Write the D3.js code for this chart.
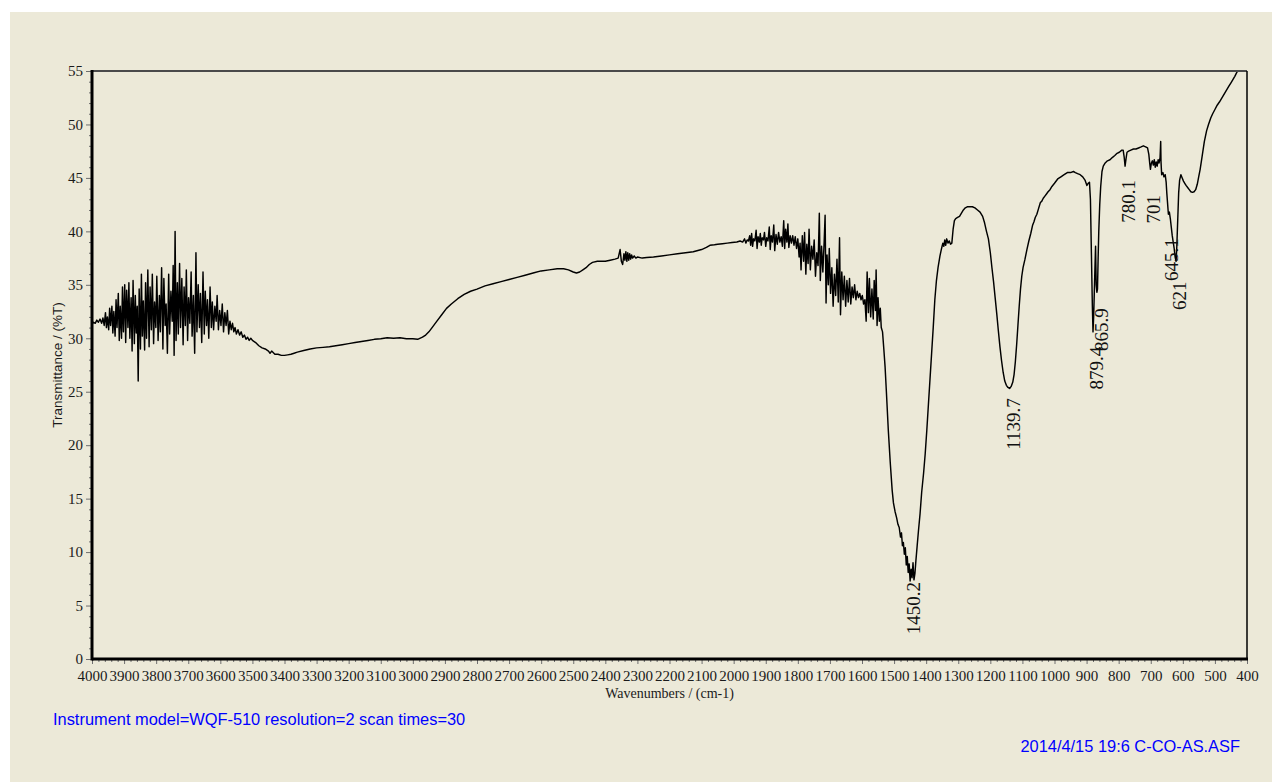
<!DOCTYPE html>
<html>
<head>
<meta charset="utf-8">
<script src="https://cdn.jsdelivr.net/npm/d3@7/dist/d3.min.js"></script>
<style>
  html, body { margin: 0; padding: 0; background: #ffffff; }
  svg { display: block; }
</style>
</head>
<body>
<svg id="chart" width="1272" height="782"></svg>
<script>
// ---------------- DATA ----------------
const xTicks = [4000,3900,3800,3700,3600,3500,3400,3300,3200,3100,3000,2900,2800,2700,2600,2500,2400,2300,2200,2100,2000,1900,1800,1700,1600,1500,1400,1300,1200,1100,1000,900,800,700,600,500,400];
const yTicks = [0,5,10,15,20,25,30,35,40,45,50,55];
const xTitle = "Wavenumbers / (cm-1)";
const yTitle = "Transmittance / (%T)";
const infoLeft = "Instrument model=WQF-510 resolution=2 scan times=30";
const infoRight = "2014/4/15 19:6 C-CO-AS.ASF";

const peakLabels = ["1450.2","1139.7","879.4","865.9","780.1","701","645.1","621"];
const peakWn     = [1450.2, 1139.7, 879.4, 865.9, 780.1, 701, 645.1, 621];
const peakLabelT = [7.2, 24.4, 29.2, 32.8, 44.8, 43.4, 39.35, 35.3];

// [wavenumber (cm-1), transmittance (%T)]
const spectrum = [
[4000,31.3],[3995,31.5],[3990,31.4],[3985,31.7],[3980,31.5],[3975,31.8],[3970,31.4],[3966,31.9],[3962,31.2],[3958,32.4],
[3955,31.0],[3952,32.0],[3948,30.8],[3945,32.8],[3942,31.2],[3938,33.0],[3935,30.5],[3932,32.5],[3928,30.2],[3925,33.6],
[3922,31.0],[3918,34.2],[3915,29.8],[3912,33.0],[3908,30.0],[3905,34.8],[3902,30.6],[3898,35.0],[3895,29.6],[3892,34.5],
[3888,31.0],[3885,35.2],[3882,30.0],[3878,33.8],[3875,28.8],[3872,35.4],[3868,29.5],[3865,34.0],[3862,30.5],[3859,33.0],
[3856,26.0],[3853,34.6],[3849,29.0],[3846,36.0],[3843,30.2],[3840,33.5],[3836,28.9],[3833,35.2],[3830,30.0],[3826,36.4],
[3822,29.2],[3819,34.8],[3815,30.8],[3812,36.0],[3808,29.5],[3805,33.4],[3801,31.0],[3798,35.8],[3794,29.8],[3790,34.0],
[3787,30.6],[3783,36.6],[3779,29.0],[3776,35.6],[3772,31.2],[3769,33.2],[3765,28.6],[3761,36.0],[3758,30.4],[3754,34.4],
[3750,31.6],[3747,36.8],[3744,28.4],[3741,40.0],[3738,29.8],[3734,35.2],[3731,30.4],[3727,37.0],[3724,31.0],[3720,35.6],
[3716,29.4],[3713,34.8],[3709,31.2],[3706,36.4],[3702,29.8],[3699,33.8],[3695,31.4],[3691,36.2],[3688,30.2],[3684,34.0],
[3680,28.6],[3676,38.0],[3673,30.6],[3669,35.0],[3665,31.0],[3662,34.2],[3658,29.6],[3654,36.2],[3650,30.4],[3647,34.4],
[3643,31.2],[3640,33.6],[3636,30.0],[3632,34.8],[3628,31.0],[3625,33.4],[3621,30.8],[3617,33.0],[3613,31.6],[3610,34.0],
[3606,30.8],[3602,32.6],[3598,31.2],[3594,33.2],[3590,30.6],[3586,32.4],[3582,31.2],[3578,32.6],[3574,30.4],[3570,31.6],
[3566,30.8],[3562,31.4],[3558,30.6],[3554,31.0],[3550,30.4],[3545,30.8],[3540,30.3],[3535,30.6],[3530,30.1],[3525,30.3],
[3520,29.9],[3515,30.1],[3510,29.8],[3505,30.0],[3500,29.8],[3490,29.6],[3480,29.3],[3470,29.1],[3460,29.0],[3450,28.8],
[3445,28.6],[3440,28.8],[3430,28.5],[3420,28.5],[3410,28.4],[3400,28.4],[3390,28.45],[3380,28.5],[3370,28.6],[3360,28.7],
[3340,28.85],[3320,29.0],[3300,29.1],[3280,29.15],[3260,29.2],[3240,29.3],[3220,29.4],[3200,29.5],[3180,29.6],[3160,29.7],
[3140,29.8],[3120,29.9],[3100,29.95],[3080,30.05],[3060,30.0],[3040,30.05],[3020,29.95],[3000,29.95],[2985,29.9],[2970,30.1],
[2960,30.3],[2950,30.6],[2940,31.0],[2925,31.6],[2910,32.2],[2895,32.8],[2880,33.2],[2860,33.7],[2840,34.1],[2820,34.4],
[2800,34.6],[2775,34.9],[2750,35.1],[2725,35.3],[2700,35.5],[2675,35.7],[2650,35.9],[2625,36.1],[2600,36.3],[2575,36.4],
[2550,36.5],[2530,36.5],[2515,36.4],[2500,36.2],[2490,36.1],[2480,36.2],[2470,36.4],[2460,36.6],[2450,36.9],[2440,37.1],
[2425,37.2],[2400,37.2],[2385,37.3],[2370,37.4],[2360,37.5],[2357,37.9],[2354,38.3],[2350,37.2],[2346,36.9],[2342,37.9],
[2339,37.3],[2336,38.1],[2333,37.2],[2330,38.0],[2327,37.3],[2324,37.9],[2321,37.4],[2318,37.8],[2315,37.5],[2310,37.7],
[2305,37.5],[2300,37.6],[2285,37.5],[2271,37.55],[2250,37.6],[2225,37.7],[2200,37.8],[2175,37.9],[2150,38.0],[2126,38.1],
[2100,38.3],[2085,38.5],[2074,38.7],[2060,38.75],[2050,38.8],[2035,38.85],[2020,38.9],[2005,38.95],[1990,39.0],[1980,39.1],
[1972,39.0],[1966,39.3],[1962,38.9],[1958,39.2],[1954,39.1],[1950,39.6],[1947,38.7],[1944,39.8],[1941,38.6],[1938,39.3],
[1934,39.1],[1930,40.1],[1927,38.4],[1924,39.5],[1920,39.0],[1917,39.8],[1914,38.7],[1911,39.4],[1907,39.2],[1904,39.9],
[1900,38.6],[1897,39.4],[1893,39.1],[1889,40.4],[1886,38.3],[1883,39.6],[1879,39.0],[1875,40.6],[1872,38.2],[1868,39.7],
[1864,38.8],[1860,39.9],[1856,39.0],[1852,39.5],[1848,38.6],[1844,41.0],[1841,38.4],[1838,40.2],[1834,39.0],[1831,40.7],
[1828,38.5],[1824,39.6],[1820,38.9],[1816,39.6],[1812,38.7],[1808,39.5],[1804,38.4],[1800,39.3],[1796,37.6],[1793,38.9],
[1790,36.4],[1786,39.6],[1782,37.2],[1779,39.9],[1775,36.0],[1772,38.8],[1768,37.0],[1765,40.2],[1761,36.4],[1757,38.6],
[1753,37.4],[1749,39.2],[1745,35.8],[1741,38.0],[1737,36.8],[1733,41.7],[1730,35.4],[1726,38.6],[1722,36.2],[1718,39.0],
[1715,41.5],[1712,33.3],[1709,37.8],[1705,35.0],[1702,38.4],[1698,34.2],[1694,36.6],[1690,33.0],[1686,36.0],[1682,34.0],
[1678,37.4],[1674,33.4],[1670,39.4],[1667,32.2],[1663,36.2],[1659,33.6],[1655,35.8],[1651,33.0],[1647,35.4],[1643,33.4],
[1639,35.6],[1635,33.2],[1631,34.8],[1627,33.8],[1623,35.0],[1619,33.6],[1615,34.4],[1611,33.8],[1607,34.2],[1603,33.6],
[1599,34.0],[1595,33.2],[1591,33.6],[1587,31.6],[1584,36.2],[1580,32.4],[1577,35.6],[1573,32.0],[1569,34.6],[1565,31.8],
[1562,35.4],[1558,32.6],[1556,36.4],[1553,31.2],[1550,33.8],[1546,31.6],[1543,32.8],[1540,31.0],[1536,30.6],[1532,29.0],
[1528,27.3],[1524,25.0],[1518,21.4],[1512,18.4],[1506,15.8],[1502,14.6],[1497,13.8],[1492,13.2],[1488,12.6],[1484,12.3],
[1480,11.4],[1477,11.8],[1474,10.6],[1471,10.9],[1468,9.8],[1465,10.4],[1462,8.8],[1459,9.6],[1456,8.1],[1453,8.9],
[1450,7.3],[1447,8.4],[1444,7.6],[1441,9.0],[1438,7.4],[1435,8.0],[1432,9.2],[1428,10.6],[1424,12.0],[1419,13.6],
[1414,15.6],[1408,17.4],[1403,19.2],[1398,21.4],[1393,23.8],[1388,26.2],[1383,28.6],[1378,31.0],[1373,33.6],[1368,35.4],
[1363,36.6],[1357,37.7],[1352,38.4],[1348,38.9],[1345,38.6],[1342,39.2],[1339,38.7],[1336,39.3],[1332,38.9],[1328,39.1],
[1324,38.8],[1320,38.9],[1316,40.2],[1312,41.0],[1308,41.2],[1302,41.3],[1296,41.4],[1290,41.7],[1284,42.0],[1278,42.2],
[1272,42.3],[1264,42.3],[1256,42.3],[1248,42.2],[1240,42.0],[1232,41.8],[1224,41.4],[1218,40.8],[1212,40.0],[1206,39.3],
[1200,38.0],[1195,36.6],[1190,35.3],[1185,33.8],[1180,32.3],[1175,30.7],[1170,29.2],[1165,27.9],[1160,26.8],[1155,26.0],
[1150,25.6],[1145,25.4],[1140,25.3],[1135,25.5],[1130,25.9],[1126,26.6],[1122,27.8],[1118,29.4],[1114,31.2],[1110,33.0],
[1106,34.6],[1102,35.8],[1098,36.6],[1092,37.4],[1086,38.3],[1080,39.1],[1074,39.8],[1068,40.6],[1064,40.9],[1060,41.3],
[1055,41.6],[1050,42.1],[1044,42.7],[1040,42.8],[1035,43.1],[1030,43.3],[1025,43.5],[1020,43.7],[1014,43.9],[1008,44.2],
[1000,44.5],[990,44.9],[980,45.1],[970,45.3],[960,45.5],[950,45.5],[941,45.6],[935,45.5],[928,45.4],[920,45.3],
[912,45.1],[905,44.8],[899,44.3],[895,44.5],[891,44.6],[888,43.0],[885,38.0],[882,33.0],[880,30.6],[878,32.0],
[876,34.2],[874,36.5],[872,38.6],[870,35.0],[868,34.3],[866,34.6],[864,37.5],[862,40.0],[859,42.5],[856,44.2],
[852,45.6],[848,46.1],[842,46.4],[835,46.6],[827,46.7],[820,46.9],[812,47.1],[805,47.3],[798,47.4],[790,47.6],
[786,47.6],[783,47.0],[780,46.1],[777,46.8],[774,47.4],[769,47.5],[762,47.6],[754,47.7],[746,47.7],[738,47.8],
[730,47.9],[723,48.0],[716,47.9],[710,47.8],[706,47.2],[703,46.3],[701,45.8],[698,46.4],[695,46.6],[692,46.2],
[689,46.7],[686,46.0],[683,46.5],[680,46.1],[677,46.7],[674,46.4],[671,46.9],[669,48.4],[668,46.5],[666,45.3],
[662,45.5],[659,45.1],[655,45.3],[652,44.6],[650,43.6],[648,42.8],[645,41.6],[642,41.8],[639,41.2],[636,40.4],
[633,39.6],[630,39.0],[627,38.4],[624,37.6],[621,37.2],[619,38.4],[616,41.0],[613,43.6],[610,44.8],[606,45.3],
[602,45.0],[598,44.7],[594,44.5],[590,44.3],[585,44.1],[580,43.9],[575,43.7],[570,43.65],[565,43.7],[560,43.9],
[555,44.4],[550,45.2],[546,45.8],[540,47.0],[533,48.4],[526,49.4],[520,50.0],[513,50.6],[507,51.0],[500,51.4],
[493,51.8],[486,52.1],[480,52.4],[474,52.7],[468,53.0],[462,53.3],[456,53.6],[450,53.9],[444,54.2],[438,54.5],
[433,54.8],[429,55.0]
];

// ---------------- DRAW ----------------
(function () {
const W = 1272, H = 782;
const svg = d3.select("#chart");
const serif = "'Liberation Serif','Times New Roman',serif";
const sans = "'Liberation Sans',Arial,sans-serif";

svg.append("rect").attr("x", 10).attr("y", 12).attr("width", W - 10).attr("height", H - 12)
  .attr("fill", "#ECE9D8");

const pL = 92, pR = 1247, pT = 71, pB = 659;
const x = d3.scaleLinear().domain([4000, 400]).range([pL, pR]);
const y = d3.scaleLinear().domain([0, 55]).range([pB, pT]);

const yMinor = d3.range(0, 56, 1).filter(v => v % 5 !== 0);
const xMinor = d3.range(4000, 399, -20).filter(v => v % 100 !== 0);

const gyMinor = svg.append("g").attr("transform", `translate(${pL},0)`)
  .call(d3.axisLeft(y).tickValues(yMinor).tickSize(3).tickFormat(""));
const gxMinor = svg.append("g").attr("transform", `translate(0,${pB})`)
  .call(d3.axisBottom(x).tickValues(xMinor).tickSize(3).tickFormat(""));

const gy = svg.append("g").attr("transform", `translate(${pL},0)`)
  .call(d3.axisLeft(y).tickValues(yTicks).tickSize(6).tickPadding(3).tickFormat(d3.format("d")));
const gx = svg.append("g").attr("transform", `translate(0,${pB})`)
  .call(d3.axisBottom(x).tickValues(xTicks).tickSize(5).tickPadding(6).tickFormat(d3.format("d")));

[gyMinor, gxMinor, gy, gx].forEach(g => {
  g.select(".domain").remove();
  g.selectAll(".tick line").attr("stroke", "#6e6e6e").attr("stroke-width", 1);
  g.selectAll(".tick text").attr("fill", "#1a1a1a").style("font-family", serif).style("font-size", "15px");
});

const line = d3.line().x(d => x(d[0])).y(d => y(d[1]));
svg.append("path").datum(spectrum)
  .attr("d", line).attr("fill", "none").attr("stroke", "#000").attr("stroke-width", 1.45)
  .attr("stroke-linejoin", "round");

svg.append("line").attr("x1", pL).attr("x2", pR).attr("y1", pT).attr("y2", pT)
  .attr("stroke", "#4a4a4a").attr("stroke-width", 2);
svg.append("line").attr("x1", pR).attr("x2", pR).attr("y1", pT).attr("y2", pB)
  .attr("stroke", "#000").attr("stroke-width", 1.5);
svg.append("line").attr("x1", pL).attr("x2", pL).attr("y1", pT - 1).attr("y2", pB + 1.5)
  .attr("stroke", "#000").attr("stroke-width", 3);
svg.append("line").attr("x1", pL).attr("x2", pR + 1).attr("y1", pB).attr("y2", pB)
  .attr("stroke", "#000").attr("stroke-width", 3);

svg.append("g").selectAll("text").data(peakLabels).join("text")
  .attr("transform", (d, i) => `translate(${x(peakWn[i]) + 10},${y(peakLabelT[i])}) rotate(-90)`)
  .attr("text-anchor", "end")
  .style("font-family", serif).style("font-size", "19px").attr("fill", "#111")
  .text(d => d);

svg.append("text").attr("x", (pL + pR) / 2).attr("y", 698)
  .attr("text-anchor", "middle").style("font-family", serif).style("font-size", "14px")
  .attr("fill", "#1a1a1a").text(xTitle);
svg.append("text").attr("transform", `translate(62,${(pT + pB) / 2}) rotate(-90)`)
  .attr("text-anchor", "middle").style("font-family", sans).style("font-size", "13.5px")
  .attr("fill", "#1a1a1a").text(yTitle);

svg.append("text").attr("x", 53).attr("y", 725)
  .style("font-family", sans).style("font-size", "16.4px").attr("fill", "#0000ff").text(infoLeft);
svg.append("text").attr("x", 1240).attr("y", 751.5).attr("text-anchor", "end")
  .style("font-family", sans).style("font-size", "16.4px").attr("fill", "#0000ff").text(infoRight);
})();
</script>
</body>
</html>
